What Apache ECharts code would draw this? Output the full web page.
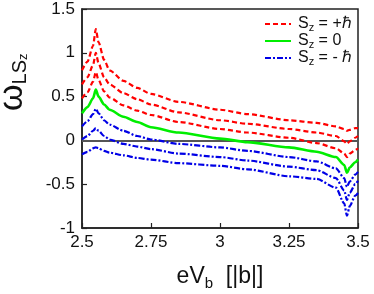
<!DOCTYPE html>
<html><head><meta charset="utf-8">
<script src="https://cdn.jsdelivr.net/npm/echarts@6/dist/echarts.min.js"></script>
<style>html,body{margin:0;padding:0;background:#fff}#c{width:374px;height:294px}</style>
</head><body><div id="c"></div>
<script>
const xValues = [2.5, 2.52, 2.54, 2.55, 2.56, 2.58, 2.6, 2.65, 2.7, 2.75, 2.85, 3.0, 3.1, 3.25, 3.35, 3.42, 3.45, 3.46, 3.47, 3.49, 3.5];
const redTop = [0.80, 0.90, 1.08, 1.27, 1.12, 0.92, 0.80, 0.68, 0.60, 0.53, 0.44, 0.35, 0.30, 0.23, 0.20, 0.16, 0.13, 0.11, 0.12, 0.14, 0.14];
const redMid = [0.64, 0.72, 0.86, 1.00, 0.88, 0.72, 0.64, 0.54, 0.47, 0.41, 0.32, 0.23, 0.19, 0.13, 0.09, 0.05, -0.01, -0.04, -0.01, 0.03, 0.05];
const redBot = [0.48, 0.55, 0.67, 0.78, 0.69, 0.56, 0.49, 0.40, 0.34, 0.29, 0.21, 0.13, 0.09, 0.03, -0.03, -0.09, -0.15, -0.19, -0.15, -0.11, -0.09];
const green = [0.31, 0.38, 0.48, 0.58, 0.50, 0.41, 0.35, 0.27, 0.21, 0.15, 0.09, 0.02, -0.02, -0.08, -0.13, -0.19, -0.28, -0.37, -0.31, -0.25, -0.22];
const blueTop = [0.16, 0.22, 0.30, 0.36, 0.31, 0.23, 0.18, 0.11, 0.05, 0.01, -0.04, -0.08, -0.12, -0.19, -0.24, -0.32, -0.43, -0.53, -0.47, -0.39, -0.36];
const blueMid = [0.01, 0.05, 0.11, 0.14, 0.11, 0.05, 0.01, -0.04, -0.07, -0.10, -0.15, -0.19, -0.23, -0.30, -0.34, -0.43, -0.57, -0.68, -0.60, -0.50, -0.46];
const blueBot = [-0.16, -0.13, -0.09, -0.08, -0.09, -0.12, -0.14, -0.17, -0.20, -0.22, -0.26, -0.29, -0.33, -0.41, -0.44, -0.54, -0.72, -0.86, -0.75, -0.63, -0.60];
const legendNames = ['S_z = +ℏ', 'S_z = 0', 'S_z = - ℏ'];
const xTicks = [2.5, 2.75, 3, 3.25, 3.5];
const yTicks = [-1, -0.5, 0, 0.5, 1, 1.5];

const pairs = arr => arr.map((v, i) => [xValues[i], v]);
const RED = '#ff0000', GREEN = '#00ee00', BLUE = '#0000e6';
const redStyle = {color: RED, width: 2.2, type: [5, 3]};
const blueStyle = {color: BLUE, width: 2.2, type: [6, 2, 2, 2]};
const greenStyle = {color: GREEN, width: 2.6, type: 'solid'};
function mk(name, arr, ls, extra) {
  return Object.assign({
    name: name, type: 'line', data: pairs(arr), showSymbol: false, symbol: 'none',
    smooth: 0.25, smoothMonotone: 'x', lineStyle: ls, itemStyle: {color: ls.color}, z: 3
  }, extra || {});
}
const chart = echarts.init(document.getElementById('c'));
const font = 'Liberation Sans, Arial, sans-serif';
chart.setOption({
  animation: false,
  grid: {left: 82, right: 16, top: 9, bottom: 66, show: true, borderColor: '#222', borderWidth: 1.5, outerBoundsMode: 'none', containLabel: false},
  legend: {
    orient: 'vertical', left: 259, top: 11, itemWidth: 26, itemHeight: 12, itemGap: 0,
    data: legendNames,
    itemStyle: {opacity: 0},
    formatter: n => '{s|S}{sub|z}{s|' + n.slice(3) + '}',
    textStyle: {
      fontFamily: font, color: '#111', padding: [0, 0, 0, 2],
      rich: {s: {fontSize: 16, fontFamily: font, color: '#111', lineHeight: 18}, sub: {fontSize: 11, fontFamily: font, color: '#111', verticalAlign: 'bottom', lineHeight: 18, padding: [5, 0, 0, 0]}}
    }
  },
  xAxis: {
    type: 'value', min: xTicks[0], max: xTicks[xTicks.length - 1], interval: 0.25,
    axisLine: {show: true, onZero: false, lineStyle: {color: '#222', width: 1.5}},
    axisTick: {show: true, inside: true, length: 5, lineStyle: {color: '#222', width: 1.2}},
    splitLine: {show: false},
    axisLabel: {fontSize: 17, fontFamily: font, color: '#111', margin: 6,
      formatter: v => xTicks.includes(+v.toFixed(2)) ? String(+v.toFixed(2)) : ''},
    name: 'eV{sub|b}  [|b|]', nameLocation: 'middle', nameGap: 35,
    nameTextStyle: {fontSize: 23, fontFamily: font, color: '#111',
      rich: {sub: {fontSize: 15, fontFamily: font, color: '#111', verticalAlign: 'bottom', padding: [13, 0, 0, 0]}}}
  },
  yAxis: {
    type: 'value', min: yTicks[0], max: yTicks[yTicks.length - 1], interval: 0.5,
    axisLine: {show: true, onZero: false, lineStyle: {color: '#222', width: 1.5}},
    axisTick: {show: true, inside: true, length: 5, lineStyle: {color: '#222', width: 1.2}},
    splitLine: {show: false},
    axisLabel: {fontSize: 17, fontFamily: font, color: '#111', margin: 7,
      formatter: v => String(+v.toFixed(2))}
  },
  graphic: [
    {type: 'text', x: -4, y: 111, rotation: 1.5708,
      style: {text: '{w|ω}{s|LS}{z|z}', fill: '#111',
        rich: {w: {fontSize: 34, fill: '#111'}, s: {fontSize: 20, fill: '#111', verticalAlign: 'bottom'}, z: {fontSize: 13, fill: '#111', verticalAlign: 'bottom'}}}}
  ],
  series: [
    mk(legendNames[0], redTop, redStyle, {
      markLine: {silent: true, symbol: ['none', 'none'], label: {show: false},
        lineStyle: {color: '#555', width: 1.8, type: 'solid'}, data: [{yAxis: 0}], z: 1}
    }),
    mk('red2', redMid, redStyle),
    mk('red3', redBot, redStyle),
    mk(legendNames[1], green, greenStyle),
    mk(legendNames[2], blueTop, blueStyle),
    mk('blue2', blueMid, blueStyle),
    mk('blue3', blueBot, blueStyle)
  ]
});
</script></body></html>
